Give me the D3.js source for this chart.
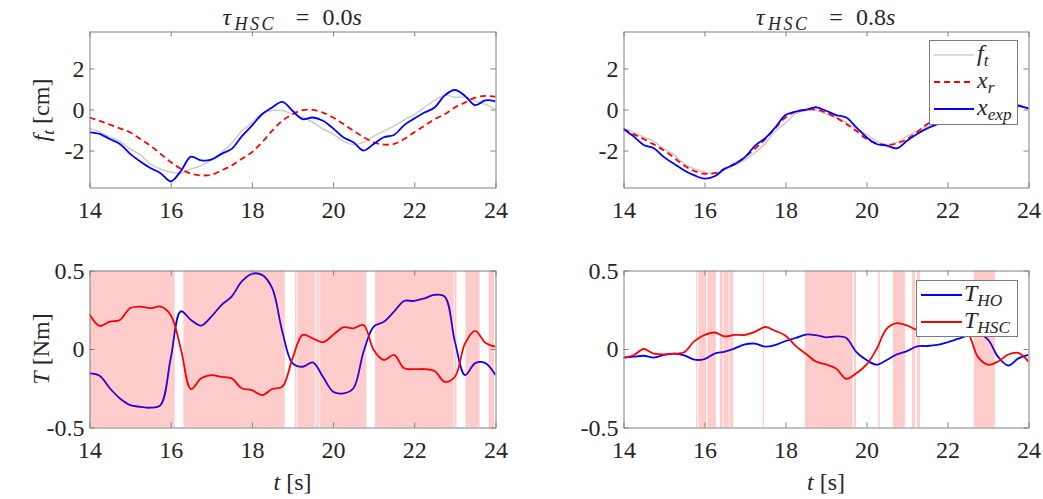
<!DOCTYPE html>
<html><head><meta charset="utf-8">
<script src="https://cdn.jsdelivr.net/npm/d3@7"></script>
<style>
body{margin:0;background:#fff}
svg{display:block}
</style>
</head><body>
<svg id="chart" width="1043" height="499"></svg>
<script>
// ---------- data ----------
const time = [14,14.25,14.5,14.75,15,15.25,15.5,15.75,16,16.25,16.5,16.75,17,17.25,17.5,17.75,18,18.25,18.5,18.75,19,19.25,19.5,19.75,20,20.25,20.5,20.75,21,21.25,21.5,21.75,22,22.25,22.5,22.75,23,23.25,23.5,23.75,24];

// target f_t (same in both top panels)
const fT = [-0.92,-1.1,-1.35,-1.55,-1.92,-2.2,-2.65,-2.9,-3.05,-3.12,-2.9,-2.72,-2.45,-2.1,-1.65,-1.05,-0.65,-0.2,-0.05,-0.05,-0.22,-0.38,-0.62,-0.95,-1.2,-1.55,-1.7,-1.6,-1.3,-1.05,-0.8,-0.5,-0.25,0.1,0.45,0.7,0.6,0.6,0.42,0.25,0.02];

// tau_HSC = 0.0 s
const xrTau0   = [-0.39,-0.55,-0.74,-0.92,-1.11,-1.44,-1.76,-2.16,-2.56,-2.89,-3.13,-3.21,-3.18,-2.97,-2.73,-2.4,-2.08,-1.6,-1.03,-0.55,-0.23,-0.03,-0.02,-0.15,-0.39,-0.71,-1.03,-1.35,-1.6,-1.71,-1.68,-1.44,-1.11,-0.79,-0.47,-0.23,0.1,0.34,0.58,0.66,0.63];
const xexpTau0 = [-1.11,-1.19,-1.44,-1.68,-2.16,-2.53,-2.85,-3.1,-3.5,-3.0,-2.3,-2.48,-2.44,-2.16,-1.92,-1.31,-0.79,-0.23,0.1,0.37,-0.06,-0.47,-0.39,-0.55,-0.92,-1.35,-1.6,-2.0,-1.68,-1.35,-1.24,-0.76,-0.44,-0.15,0.1,0.69,0.95,0.66,0.21,0.45,0.4];
const tHoTau0  = [-0.155,-0.17,-0.25,-0.315,-0.357,-0.368,-0.374,-0.357,-0.06,0.24,0.185,0.149,0.206,0.28,0.334,0.43,0.479,0.472,0.387,0.11,-0.09,-0.113,-0.085,-0.177,-0.272,-0.283,-0.25,-0.017,0.143,0.174,0.238,0.306,0.306,0.323,0.345,0.334,0.047,-0.166,-0.09,-0.09,-0.166];
const tHscTau0 = [0.221,0.147,0.174,0.185,0.26,0.27,0.26,0.27,0.217,0.0,-0.255,-0.187,-0.166,-0.177,-0.187,-0.25,-0.262,-0.294,-0.255,-0.24,-0.06,0.09,0.068,0.043,0.089,0.138,0.132,0.153,-0.006,-0.07,-0.038,-0.123,-0.128,-0.128,-0.14,-0.209,-0.177,0.036,0.115,0.04,0.015];
const hscOnTau0 = [[14,16.10],[16.31,18.81],[19.06,19.10],[19.12,19.55],[19.57,19.59],[19.61,19.66],[19.68,20.82],[21.03,22.97],[22.99,23.04],[23.26,23.61],[23.83,23.97]];

// tau_HSC = 0.8 s
const xrTau08   = [-0.95,-1.2,-1.44,-1.7,-2.0,-2.35,-2.73,-3.0,-3.13,-3.1,-2.89,-2.65,-2.32,-1.9,-1.44,-0.9,-0.39,-0.1,0.0,0.0,-0.15,-0.4,-0.71,-1.05,-1.44,-1.65,-1.73,-1.65,-1.44,-1.1,-0.71,-0.45,-0.2,0.1,0.35,0.5,0.55,0.45,0.35,0.2,0.05];
const xexpTau08 = [-0.95,-1.31,-1.73,-1.89,-2.32,-2.65,-2.97,-3.21,-3.37,-3.25,-2.89,-2.65,-2.32,-1.76,-1.4,-0.87,-0.27,-0.1,-0.02,0.11,-0.06,-0.27,-0.39,-0.87,-1.35,-1.68,-1.76,-1.89,-1.52,-1.19,-0.92,-0.71,-0.45,-0.2,0.1,0.4,0.5,0.4,0.25,0.18,0.05];
const tHoTau08  = [-0.055,-0.049,-0.043,-0.055,-0.038,-0.03,-0.04,-0.068,-0.064,-0.03,-0.017,0.004,0.03,0.034,0.015,0.026,0.051,0.07,0.092,0.088,0.074,0.08,0.07,-0.02,-0.07,-0.1,-0.07,-0.034,-0.013,0.017,0.019,0.026,0.043,0.064,0.085,0.1,0.06,-0.05,-0.105,-0.06,-0.038];
const tHscTau08 = [-0.055,-0.04,0.0,-0.03,-0.035,-0.03,-0.021,0.05,0.089,0.105,0.08,0.09,0.09,0.11,0.14,0.115,0.085,0.02,-0.03,-0.08,-0.098,-0.125,-0.19,-0.155,-0.1,0.0,0.13,0.165,0.15,0.12,0.11,0.12,0.12,0.12,0.1,-0.05,-0.1,-0.08,-0.035,-0.025,-0.08];
const hscOnTau08 = [[15.79,15.82],[15.85,16.04],[16.07,16.28],[16.38,16.45],[16.47,16.6],[16.62,16.71],[17.44,17.47],[18.48,19.66],[19.69,19.74],[20.29,20.33],[20.65,20.95],[21.12,21.2],[21.25,21.32],[22.65,23.17]];

const xTicks = [14,16,18,20,22,24];
const yTicksTop = [-2,0,2];
const yTickLabelsTop = ["-2","0","2"];
const yTicksBot = [-0.5,0,0.5];
const yTickLabelsBot = ["-0.5","0","0.5"];
const titles = ["0.0","0.8"];

// ---------- drawing ----------
const svg = d3.select("#chart");
const FONT = "'Liberation Serif'";
const FS = 24;
const AX = "#808080";
const TXT = "#262626";

const xs = [d3.scaleLinear().domain([14,24]).range([89.5,495.5]),
            d3.scaleLinear().domain([14,24]).range([623.5,1028.5])];
const yTop = d3.scaleLinear().domain([-3.8,3.8]).range([187.5,31.5]);
const yBot = d3.scaleLinear().domain([-0.5,0.5]).range([427.5,270.5]);

let clipId = 0;
function makeClip(x, y){
  const id = "clip"+(clipId++);
  svg.append("clipPath").attr("id",id).append("rect")
    .attr("x",x.range()[0]).attr("y",y.range()[1])
    .attr("width",x.range()[1]-x.range()[0]).attr("height",y.range()[0]-y.range()[1]);
  return "url(#"+id+")";
}

function drawLine(g, x, y, vals, color, width, dash){
  const line = d3.line().x((d,i)=>x(time[i])).y(d=>y(d)).curve(d3.curveCatmullRom.alpha(0.5));
  g.append("path").attr("d", line(vals)).attr("fill","none")
    .attr("stroke",color).attr("stroke-width",width)
    .attr("stroke-dasharray", dash || null).attr("stroke-linejoin","round");
}

function drawAxes(x, y, yTicks, yLabels){
  const [x0,x1] = x.range(), [y0,y1] = y.range();
  const g = svg.append("g");
  const fmtY = d => yLabels[yTicks.indexOf(d)];
  g.append("g").attr("transform",`translate(0,${y0})`)
    .call(d3.axisBottom(x).tickValues(xTicks).tickSize(-5).tickSizeOuter(0).tickPadding(13).tickFormat(d3.format("d")));
  g.append("g").attr("transform",`translate(0,${y1})`)
    .call(d3.axisTop(x).tickValues(xTicks).tickSize(-5).tickSizeOuter(0).tickFormat(""));
  g.append("g").attr("transform",`translate(${x0},0)`)
    .call(d3.axisLeft(y).tickValues(yTicks).tickSize(-5).tickSizeOuter(0).tickPadding(5).tickFormat(fmtY));
  g.append("g").attr("transform",`translate(${x1},0)`)
    .call(d3.axisRight(y).tickValues(yTicks).tickSize(-5).tickSizeOuter(0).tickFormat(""));
  g.selectAll(".domain").attr("stroke",AX);
  g.selectAll(".tick line").attr("stroke",AX);
  g.selectAll(".tick text").style("font-family",FONT).style("font-size",FS+"px").attr("fill",TXT);
}

// math-like text: parts = [[text, italic, sub]]
function mathText(parent, x, y, parts, size, anchor, rotate){
  const t = parent.append("text").style("font-family",FONT).style("font-size",size+"px")
    .attr("fill",TXT).attr("text-anchor",anchor||"start")
    .attr("transform",`translate(${x},${y})` + (rotate?` rotate(${rotate})`:""));
  let sub = false;
  parts.forEach(([s, it, sb]) => {
    const sp = t.append("tspan").text(s).style("font-style", it ? "italic" : "normal");
    if (sb){ sp.style("font-size", (size*0.72)+"px"); if(!sub) sp.attr("dy", size*0.2); sub = true; }
    else { if(sub) sp.attr("dy", -size*0.2); sub = false; }
  });
  return t;
}

function title(cx, label){
  const g = svg.append("g");
  mathText(g, cx-70, 25, [["τ",true]], FS, "start");
  mathText(g, cx-58, 30, [["HSC",true]], 18, "start").style("letter-spacing","2.5px");
  mathText(g, cx+10, 25, [["=",false]], FS, "middle");
  mathText(g, cx+30, 25, [[label,false],["s",true]], FS, "start");
}

function legend(x0, y0, w, h, items, lineX0, lineX1, textX){
  const g = svg.append("g");
  g.append("rect").attr("x",x0).attr("y",y0).attr("width",w).attr("height",h)
    .attr("fill","#fff").attr("stroke","#7a7a7a").attr("stroke-width",1);
  items.forEach(it => {
    g.append("line").attr("x1",lineX0).attr("x2",lineX1).attr("y1",it.y).attr("y2",it.y)
      .attr("stroke",it.color).attr("stroke-width",it.width).attr("stroke-dasharray",it.dash||null);
    mathText(g, textX, it.y+6, it.parts, FS, "start");
  });
}

// ---- top panels ----
[[xrTau0,xexpTau0],[xrTau08,xexpTau08]].forEach(([xr,xe],c) => {
  const x = xs[c];
  const g = svg.append("g").attr("clip-path", makeClip(x,yTop));
  drawLine(g, x, yTop, fT, "#cccccc", 1.5);
  drawLine(g, x, yTop, xr, "#ff0000", 1.8, "6,4");
  drawLine(g, x, yTop, xe, "#0000ff", 1.8);
  drawAxes(x, yTop, yTicksTop, yTickLabelsTop);
  title((x.range()[0]+x.range()[1])/2, titles[c]);
});

// ---- bottom panels ----
[[tHoTau0,tHscTau0,hscOnTau0],[tHoTau08,tHscTau08,hscOnTau08]].forEach(([ho,hsc,bands],c) => {
  const x = xs[c];
  const g = svg.append("g").attr("clip-path", makeClip(x,yBot));
  drawLine(g, x, yBot, ho, "#0000ff", 1.8);
  drawLine(g, x, yBot, hsc, "#ff0000", 1.8);
  g.selectAll("rect.band").data(bands).join("rect").attr("class","band")
    .attr("x", d=>x(d[0])).attr("width", d=>Math.max(1.2, x(d[1])-x(d[0])))
    .attr("y", yBot.range()[1]).attr("height", yBot.range()[0]-yBot.range()[1])
    .attr("fill","#ff0000").attr("fill-opacity",0.2);
  drawAxes(x, yBot, yTicksBot, yTickLabelsBot);
  const cx = (x.range()[0]+x.range()[1])/2;
  mathText(svg, cx, 490, [["t",true],[" [s]",false]], FS, "middle");
});

// y labels
mathText(svg, 49, 110, [["f",true],["t",true,true],[" [cm]",false]], FS, "middle", -90);
mathText(svg, 49, 349, [["T",true],[" [Nm]",false]], FS, "middle", -90);

// legends
legend(929.5, 40.5, 88, 84, [
  {y:55, color:"#cccccc", width:1.5, parts:[["f",true],["t",true,true]]},
  {y:82, color:"#ff0000", width:1.8, dash:"6,4", parts:[["x",true],["r",true,true]]},
  {y:109, color:"#0000ff", width:1.8, parts:[["x",true],["exp",true,true]]}
], 934, 974, 977);
legend(916.5, 280.5, 101, 56, [
  {y:295, color:"#0000ff", width:1.8, parts:[["T",true],["HO",true,true]]},
  {y:322, color:"#ff0000", width:1.8, parts:[["T",true],["HSC",true,true]]}
], 921, 962, 964);
</script>
</body></html>
